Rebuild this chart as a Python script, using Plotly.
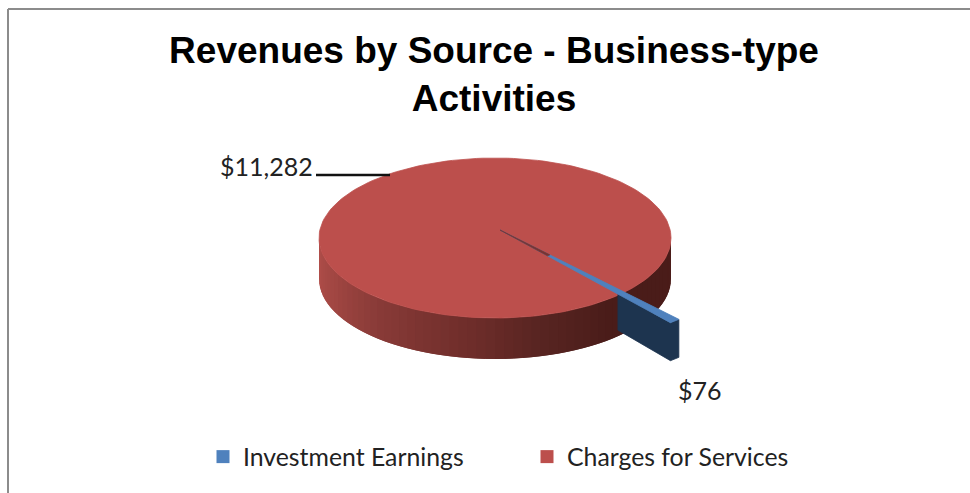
import math
import plotly.graph_objects as go

# ---- data ----
categories = ["Investment Earnings", "Charges for Services"]
values = [76, 11282]
colors_top = ["#4f81bd", "#bc4f4c"]
title_text = "Revenues by Source - Business-type<br>Activities"

# ---- pseudo-3D pie geometry, in reference pixels ----
W, H = 970, 493
CX, CY, RX, RY = 495, 238, 176, 80      # red disc
DEPTH = 41
AX, AY = 500, 230                       # apex of the pulled-out slice
K_OUT = 1.51                            # how far the blue slice is pulled out
START_DEG = 47.7                        # direction of the slice's first edge

sweep = values[0] / sum(values) * 360
t0, t1 = START_DEG, START_DEG + sweep


def rim(t, k=1.0, dz=0):
    r = math.radians(t)
    return AX + k * RX * math.cos(r), AY + k * RY * math.sin(r) + dz


def disc(t, dz=0):
    r = math.radians(t)
    return CX + RX * math.cos(r), CY + RY * math.sin(r) + dz


def wall_colour(t):
    stops = [(0, (74, 28, 25)), (50, (74, 28, 25)), (75, (88, 36, 33)), (100, (112, 46, 43)),
             (130, (136, 58, 55)), (155, (160, 70, 66)), (180, (178, 78, 74))]
    for (a, ca), (b, cb) in zip(stops, stops[1:]):
        if a <= t <= b:
            f = (t - a) / (b - a)
            return "rgb(%d,%d,%d)" % tuple(round(x + (y - x) * f) for x, y in zip(ca, cb))
    return "rgb(178,78,74)"


def poly(pts, colour, edge=0.8):
    xs, ys = zip(*pts)
    return go.Scatter(x=list(xs) + [xs[0]], y=list(ys) + [ys[0]], mode="lines", fill="toself",
                      fillcolor=colour, line=dict(color=colour, width=edge),
                      hoverinfo="skip", showlegend=False)


fig = go.Figure()

# side wall of the red slice: overlapping bands, painted so each one covers the previous seam
step = 3
for t in range(0, 180, step):
    a, b = t, min(t + 2 * step, 180)
    arc = [a + (b - a) * i / 4 for i in range(5)]
    pts = [disc(x) for x in arc] + [disc(x, DEPTH) for x in reversed(arc)]
    fig.add_trace(poly(pts, wall_colour(t + step / 2), edge=0))

# top of the red slice
fig.add_trace(poly([disc(t) for t in range(0, 360, 2)], colors_top[1]))

# cut face of the blue slice
K_IN = 1.045
ts = [t1 - (t1 - t0) * i / 4 for i in range(5)]
side = [rim(t1, K_IN), rim(t1, K_OUT)] + [rim(t, K_OUT) for t in ts] + \
       [rim(t, K_OUT, 38) for t in reversed(ts)] + [rim(t1, K_IN, 36)]
fig.add_trace(poly(side, "#1d344f"))

# top of the blue slice
fig.add_trace(poly([(AX, AY)] + [rim(t, K_OUT) for t in ts], colors_top[0]))
fig.add_trace(poly([(AX, AY), rim(t0, 0.42), rim(t1, 0.42)], "#7a3330"))

# leader line of the large slice
fig.add_trace(go.Scatter(x=[316, 390], y=[175, 175], mode="lines", line=dict(color="#111111", width=2.5),
                         hoverinfo="skip", showlegend=False))

# legend entries
for name, colour in zip(categories, colors_top):
    fig.add_trace(go.Scatter(x=[None], y=[None], mode="markers", name=name,
                             marker=dict(symbol="square", size=13, color=colour)))

label_font = dict(family="Lato", size=25, color="#222222")
fig.add_annotation(x=266, y=166, text="${:,}".format(values[1]), showarrow=False, font=label_font,
                   xanchor="center", yanchor="middle")
fig.add_annotation(x=700, y=390, text="${:,}".format(values[0]), showarrow=False, font=label_font,
                   xanchor="center", yanchor="middle")

fig.update_layout(
    width=W, height=H, margin=dict(l=0, r=0, t=0, b=0),
    paper_bgcolor="white", plot_bgcolor="white",
    title=dict(text=title_text, x=494 / W, xanchor="center", y=1 - 63 / H, yanchor="top", yref="container",
               font=dict(family="Liberation Sans", size=37, color="black", weight="bold")),
    xaxis=dict(range=[0, W], visible=False, fixedrange=True),
    yaxis=dict(range=[H, 0], visible=False, fixedrange=True),
    legend=dict(orientation="h", x=203 / W, xanchor="left", y=1 - 457 / H, yanchor="middle",
                font=dict(family="Lato", size=24.8, color="#222222"),
                entrywidth=279, entrywidthmode="pixels", bgcolor="rgba(0,0,0,0)",
                itemclick=False, itemdoubleclick=False),
    shapes=[
        dict(type="line", xref="x", yref="y", x0=8, x1=970, y0=9, y1=9, line=dict(color="#8c8c8c", width=2)),
        dict(type="line", xref="x", yref="y", x0=8, x1=8, y0=9, y1=493, line=dict(color="#8c8c8c", width=2)),
    ],
)

fig.write_html("out.html", config=dict(displayModeBar=False),
               post_script="document.body.style.margin='0';")
